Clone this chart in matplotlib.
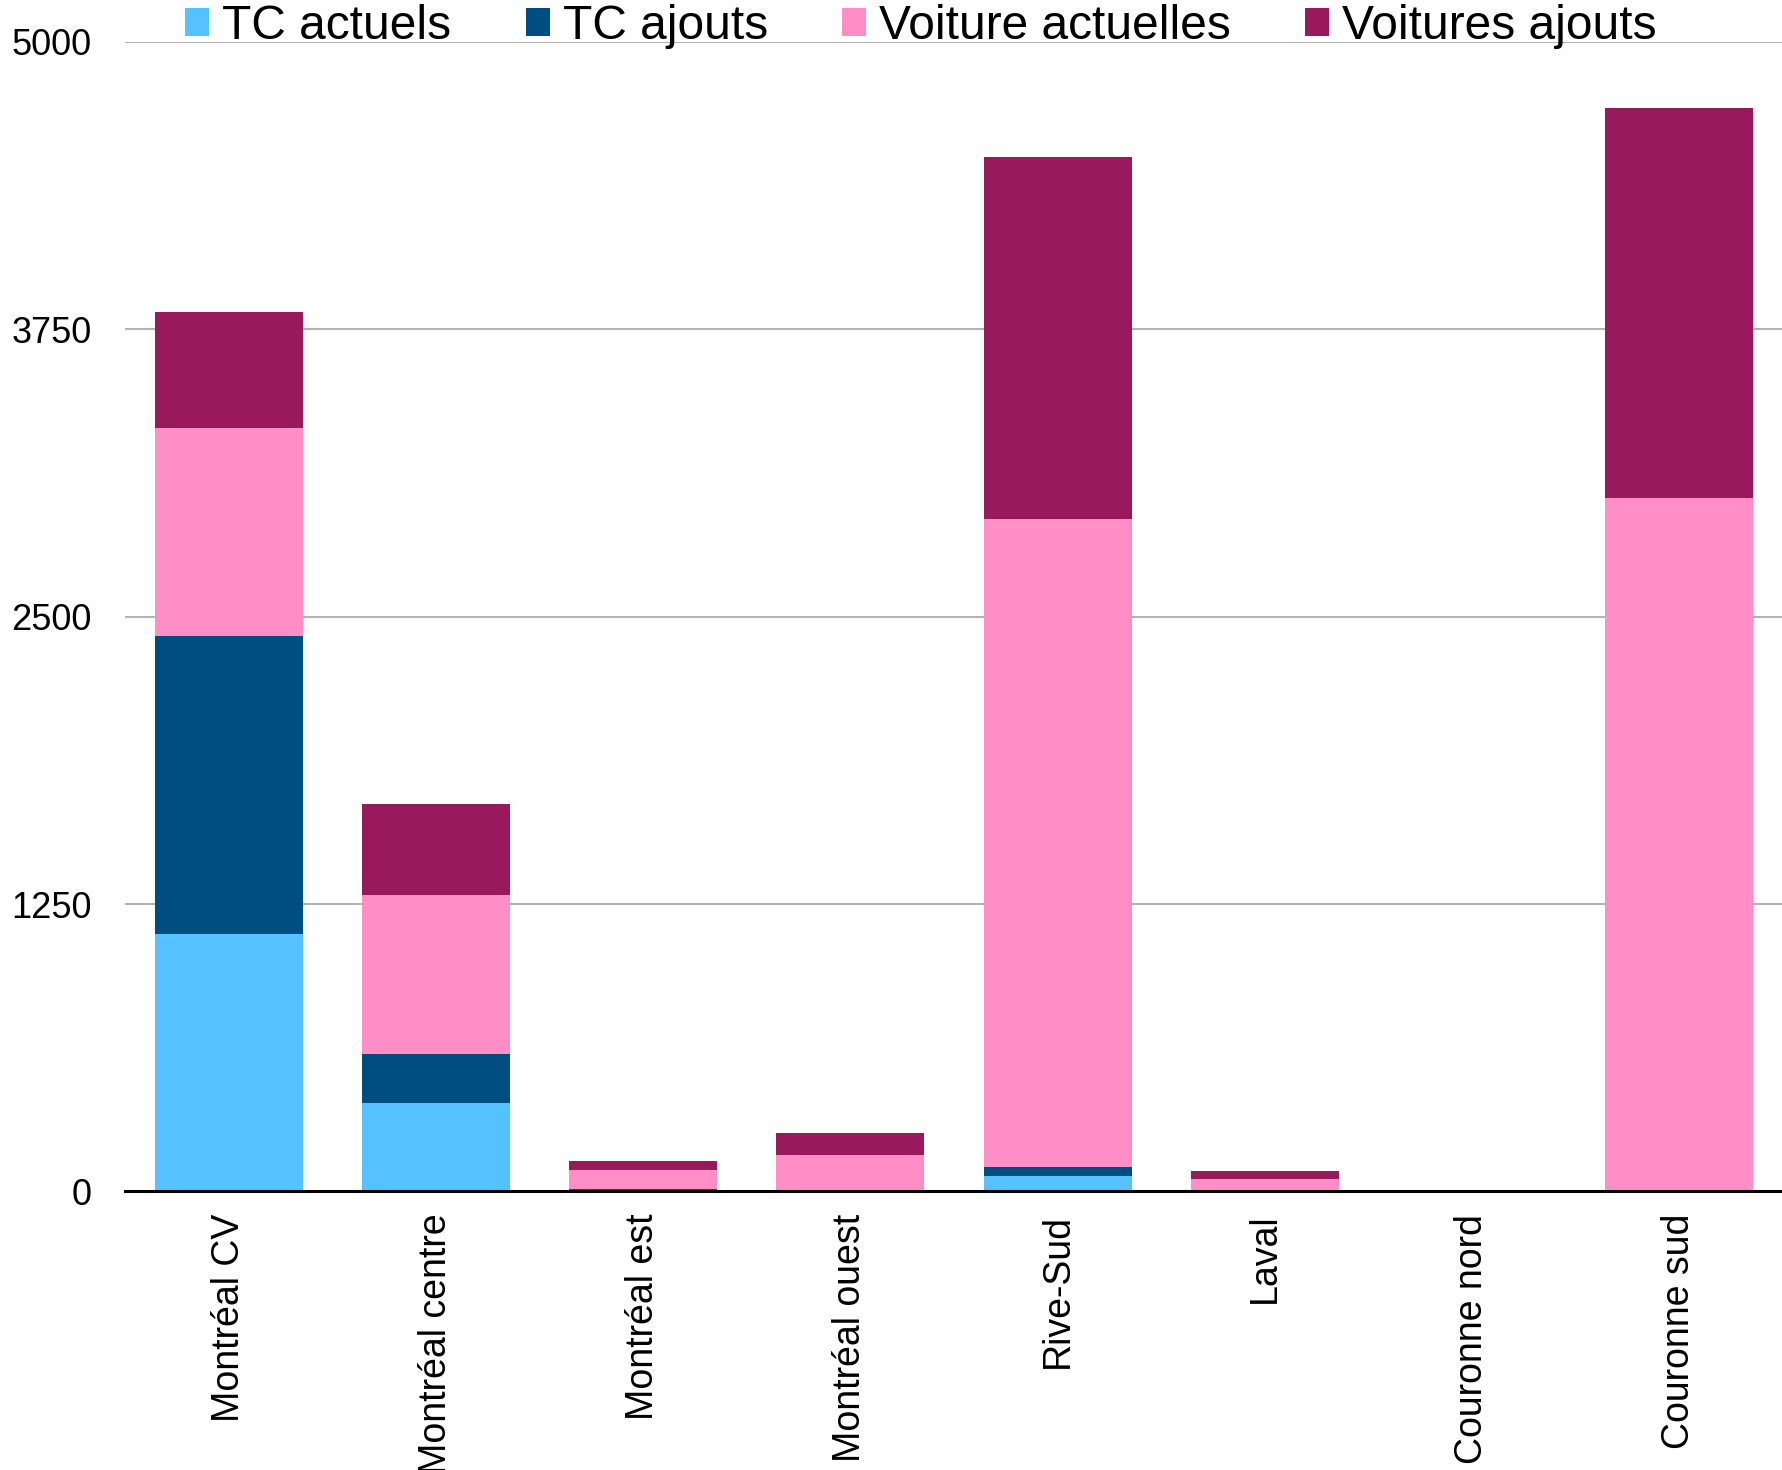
import numpy as np
import matplotlib.pyplot as plt

plt.rcParams['font.family'] = ['Liberation Sans', 'DejaVu Sans']

# Données
regions = ['Montréal CV', 'Montréal centre', 'Montréal est', 'Montréal ouest',
           'Rive-Sud', 'Laval', 'Couronne nord', 'Couronne sud']
tc_actuels = [1118, 386, 5, 0, 68, 0, 0, 0]
tc_ajouts = [1296, 212, 7, 0, 40, 0, 0, 0]
voiture_actuelles = [905, 693, 80, 160, 2815, 54, 0, 3017]
voitures_ajouts = [506, 396, 40, 94, 1578, 33, 0, 1696]

series = [
    ('TC actuels', tc_actuels, '#56c1ff'),
    ('TC ajouts', tc_ajouts, '#004d7f'),
    ('Voiture actuelles', voiture_actuelles, '#ff8ec6'),
    ('Voitures ajouts', voitures_ajouts, '#991a5c'),
]

fig = plt.figure(figsize=(17.83, 14.70), dpi=100)
ax = fig.add_axes([0.0701, 0.1895, 0.9299, 0.782])

x = np.arange(len(regions))
bottom = np.zeros(len(regions))
for label, vals, color in series:
    vals = np.array(vals, dtype=float)
    ax.bar(x, vals, width=0.714, bottom=bottom, color=color, label=label,
           zorder=2)
    bottom += vals

ax.set_xlim(-0.5, len(regions) - 0.5)
ax.set_ylim(0, 5000)
ax.set_yticks([0, 1250, 2500, 3750, 5000])
ax.yaxis.grid(True, color='#b3b3b3', linewidth=1.5, zorder=0)
ax.set_axisbelow(True)

for side in ['top', 'right', 'left']:
    ax.spines[side].set_visible(False)
ax.spines['bottom'].set_color('black')
ax.spines['bottom'].set_linewidth(2.2)
ax.spines['bottom'].set_zorder(3)

ax.set_xticks(x)
ax.set_xticklabels(regions, rotation=90, fontsize=27)
ax.tick_params(axis='x', length=0, pad=16)
ax.tick_params(axis='y', length=0, pad=24, labelsize=26)

fig.legend(loc='center', bbox_to_anchor=(0.5166, 0.982), ncol=4,
           frameon=False, fontsize=34.5, handlelength=0.5, handleheight=0.5,
           handletextpad=0.27, columnspacing=1.55, borderpad=0)

fig.savefig('out.png', dpi=100)
